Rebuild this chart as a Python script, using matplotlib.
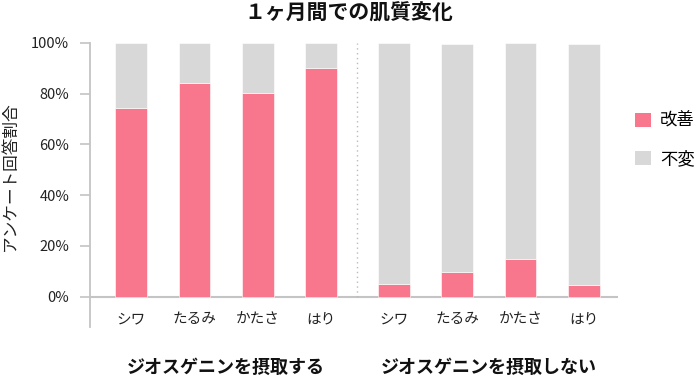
import matplotlib
matplotlib.use("Agg")
import matplotlib.pyplot as plt
from matplotlib.patches import Patch

plt.rcParams['font.family'] = ['Noto Sans CJK JP', 'DejaVu Sans']

title = "１ヶ月間での肌質変化"
categories = ["シワ", "たるみ", "かたさ", "はり"]
groups = ["ジオスゲニンを摂取する", "ジオスゲニンを摂取しない"]
improved_take = [74.4, 84.3, 80.4, 90.2]
unchanged_take = [25.6, 15.7, 19.6, 9.8]
improved_none = [5.1, 9.8, 14.9, 4.7]
unchanged_none = [94.9, 89.8, 85.1, 94.9]
yticks = [0, 20, 40, 60, 80, 100]
ylabel = "アンケート回答割合"
legend_labels = ["改善", "不変"]

red = "#F8778C"
gray = "#D8D8D8"
axis_col = "#C4C4C4"

fig = plt.figure(figsize=(6.97, 3.77), dpi=100)
ax = fig.add_axes([90/697, 1-327/377, (618-90)/697, (327-43)/377])

gap = 1.15
x_take = [i for i in range(len(categories))]
x_none = [i + len(categories) - 1 + gap for i in range(len(categories))]
w = 0.5

ax.bar(x_take, improved_take, width=w, color=red, edgecolor="white", linewidth=0.4)
ax.bar(x_take, unchanged_take, width=w, bottom=improved_take, color=gray, edgecolor="white", linewidth=0.4)
ax.bar(x_none, improved_none, width=w, color=red, edgecolor="white", linewidth=0.4)
ax.bar(x_none, unchanged_none, width=w, bottom=improved_none, color=gray, edgecolor="white", linewidth=0.4)

ax.set_xlim(-0.65, 7.69)
ax.set_ylim(-12, 100)

for s in ["top", "right", "bottom"]:
    ax.spines[s].set_visible(False)
ax.spines["left"].set_color(axis_col)
ax.spines["left"].set_linewidth(1.3)
ax.axhline(0, color=axis_col, linewidth=1.5, zorder=0)

sep = (x_take[-1] + x_none[0]) / 2
ax.plot([sep, sep], [0, 100], color="#BBBBBB", linestyle=(0, (1, 2.5)), linewidth=1)

ax.set_yticks(yticks)
ax.set_yticklabels([f"{v}%" for v in yticks], fontsize=10.5, color="#222222")
ax.tick_params(axis="y", length=7, width=1.2, color=axis_col, pad=8)
ax.set_xticks([])

for xs in (x_take, x_none):
    for x, c in zip(xs, categories):
        ax.text(x, -9, c, ha="center", va="center", fontsize=10.5, color="#222222")

for xs, g in zip((x_take, x_none), groups):
    xc = (xs[0] + xs[-1]) / 2
    ax.text(xc, -28, g, ha="center", va="center", fontsize=13, fontweight="bold",
            color="#111111", clip_on=False)

fig.text(0.5, 1 - 13/377, title, ha="center", va="center", fontsize=15,
         fontweight="bold", color="#111111")
fig.text(10/697, 1 - 176/377, ylabel, ha="center", va="center", rotation=90,
         fontsize=12, color="#222222")

handles = [Patch(facecolor=red, edgecolor="none"), Patch(facecolor=gray, edgecolor="none")]
fig.legend(handles, legend_labels, loc="center left", bbox_to_anchor=(635/697, 1 - 140/377),
           frameon=False, fontsize=12.5, handlelength=0.9, handleheight=0.9,
           labelspacing=1.15, handletextpad=0.55, borderpad=0, borderaxespad=0)

fig.savefig("out.png", dpi=100)
